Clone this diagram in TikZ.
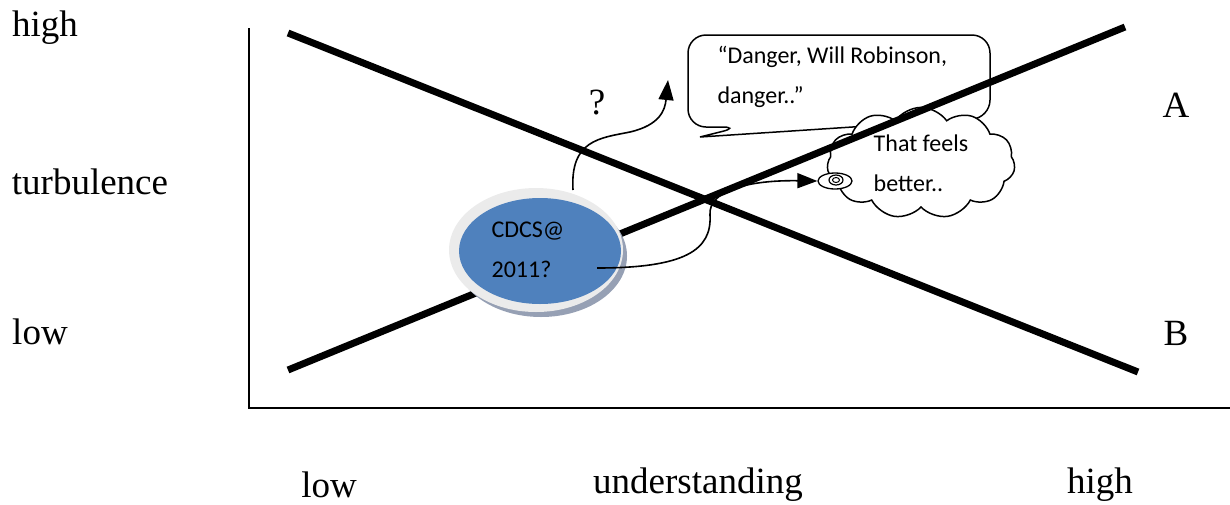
\documentclass[tikz,border=0pt]{standalone}
\usepackage{fontspec}
\setmainfont{Liberation Serif}
\newfontfamily\calib{Carlito}
\usetikzlibrary{arrows.meta,shapes.symbols,shapes.geometric}

\begin{document}
\begin{tikzpicture}[x=1pt,y=-1pt,
  lbl/.style={font=\fontsize{37}{40}\selectfont},
  say/.style={font=\calib\fontsize{24}{40}\selectfont,align=left},
  bar/.style={line width=7pt},
  pointer/.style={line width=1.6pt,-{Triangle[length=20pt,width=15pt]}}]
\useasboundingbox (0,0) rectangle (1230,504);
% labels
\node[lbl] (thigh) at (45,28){high};\node[lbl] (tturb) at (90,182){turbulence};\node[lbl] (tlow) at (40,332){low};
\node[lbl] (ulow) at (329,485){low};\node[lbl] (und) at (698,485){understanding};\node[lbl] (uhigh) at (1100,485){high};
\node[lbl] (la) at (1176,105){A};\node[lbl] (lb) at (1176,333){B};
% axes
\coordinate (top) at (249,28);\coordinate (org) at (249,408);\coordinate (right) at (1230,408);
\draw[line width=2pt] (top)--(org)--(right);
% speech bubble
\draw[line width=1.5pt,fill=white,rounded corners=18pt] (688,35)--(688,127)--(740,127)[sharp corners]--(700,137)[rounded corners=18pt]--(990,118)--(990,35)--cycle;
\node[say,anchor=west] (danger) at (714,77){“Danger, Will Robinson,\\danger..”};
% thought cloud
\node[cloud,draw,fill=white,line width=1.5pt,cloud puffs=11,cloud puff arc=110,aspect=1.9,minimum width=188pt,minimum height=104pt,say] (feel) at (921,163){That feels\\better..};
\node[ellipse,draw,fill=white,line width=1.3pt,minimum width=34pt,minimum height=16pt,inner sep=0] (puff) at (835,181){};
\node[ellipse,draw,line width=1.2pt,minimum width=14pt,minimum height=10pt,inner sep=0] (puffin) at (836,180){};
\node[ellipse,draw,line width=1pt,minimum width=7pt,minimum height=5pt,inner sep=0] (puffdot) at (836,180){};
% the two lines
\coordinate (b1) at (288,33);\coordinate (b2) at (1138,372);
\coordinate (a1) at (288,370);\coordinate (a2) at (1125,27);
\draw[bar] (b1)--(b2);\draw[bar] (a1)--(a2);
% CDCS
\node[ellipse,fill={rgb,255:red,150;green,160;blue,180},minimum width=172pt,minimum height=122pt] (shade) at (541,256){};
\node[ellipse,fill=black!8,minimum width=174pt,minimum height=124pt] (rim) at (536,250){};
\node[ellipse,fill={rgb,255:red,79;green,129;blue,189},minimum width=162pt,minimum height=106pt,inner sep=0] (cdcs) at (540,251){};
\node[say] (ctext) at (528,250){CDCS@\\2011?};
% arrows
\coordinate (up) at (573,190);\coordinate (ask) at (668,80);
\coordinate (go) at (597,268);
\draw[pointer] (up) .. controls (570,140) and (600,138) .. (630,132) .. controls (660,125) and (665,110) .. (ask);
\draw[pointer] (go) .. controls (685,268) and (712,250) .. (710,215) .. controls (708,190) and (750,180) .. (puff.west);
\node[lbl] (q) at (597,103){?};
\end{tikzpicture}
\end{document}
